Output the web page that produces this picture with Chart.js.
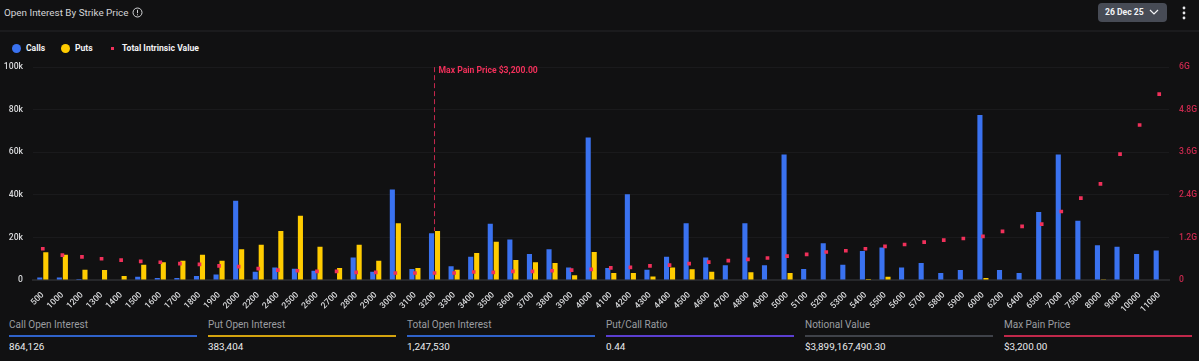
<!DOCTYPE html>
<html>
<head>
<meta charset="utf-8">
<script src="https://cdn.jsdelivr.net/npm/chart.js@4"></script>
<style>
    html, body { margin: 0; padding: 0; background: #111112; width: 1199px; height: 361px; overflow: hidden; font-family: Roboto, sans-serif; }
    .abs { position: absolute; white-space: nowrap; }
    .title { left: 4px; top: 5px; font-size: 9.9px; line-height: 16px; color: #d4d5d7; }
    .divider { left: 0; top: 30px; width: 1199px; height: 2px; background: #1b1b1d; }
    .date-btn { left: 1098px; top: 3px; width: 69px; height: 19px; background: #474b55; border-radius: 4px; color: #f2f3f5; font-size: 8.6px; font-weight: 700; line-height: 19px; padding-left: 7px; box-sizing: border-box; }
    .legend-text { top: 42px; font-size: 8.6px; font-weight: 700; line-height: 12px; color: #f2f3f5; }
    .dot { top: 44px; width: 9px; height: 9px; border-radius: 50%; }
    .stat-title { top: 318px; font-size: 10px; line-height: 14px; color: #9b9da1; }
    .stat-line { top: 335px; height: 2px; }
    .stat-value { top: 340px; font-size: 9.9px; font-weight: 400; line-height: 14px; color: #ebecee; }
    #chart_wrap { position: absolute; left: 0; top: 52px; width: 1199px; height: 264px; }
</style>
</head>
<body>
<div class="abs title">Open Interest By Strike Price</div>
<svg class="abs" style="left:132px;top:7px" width="11" height="11" viewBox="0 0 11 11" fill="none" stroke="#d4d5d7">
    <circle cx="5.5" cy="5.5" r="4.5"/><path d="M5.5 2.8v3.4M5.5 7.3v1"/>
</svg>
<div class="abs date-btn">26 Dec 25</div>
<svg class="abs" style="left:1149px;top:9px" width="10" height="7" viewBox="0 0 10 7" fill="none" stroke="#f2f3f5" stroke-width="1.2">
    <path d="M1 1l4 4 4-4"/>
</svg>
<svg class="abs" style="left:1182px;top:6px" width="4" height="14" viewBox="0 0 4 14" fill="#e8e9eb">
    <circle cx="2" cy="2" r="1.4"/><circle cx="2" cy="7" r="1.4"/><circle cx="2" cy="12" r="1.4"/>
</svg>
<div class="abs divider"></div>

<div class="abs dot" style="left:12px;background:#3a72f0"></div>
<div class="abs legend-text" style="left:26px">Calls</div>
<div class="abs dot" style="left:61px;background:#ffcc00"></div>
<div class="abs legend-text" style="left:75px">Puts</div>
<div class="abs" style="left:111px;top:47px;width:3px;height:3px;background:#f0305a"></div>
<div class="abs legend-text" style="left:122px">Total Intrinsic Value</div>

<div id="chart_wrap"><canvas id="strike_chart"></canvas></div>
<div id="stats"></div>

<script>
const strikes = ['500','1000','1200','1300','1400','1500','1600','1700','1800','1900','2000','2200','2400','2500','2600','2700','2800','2900','3000','3100','3200','3300','3400','3500','3600','3700','3800','3900','4000','4100','4200','4300','4400','4500','4600','4700','4800','4900','5000','5100','5200','5300','5400','5500','5600','5700','5800','5900','6000','6200','6400','6500','7000','7500','8000','9000','10000','11000']

// open interest, in thousands
const calls = [1.2,1.2,0.5,0,0,1.5,0.9,0.9,1.9,2.6,37.2,3.9,5.9,5.3,4.4,0,10.6,3.9,42.5,5.2,22,6.5,10.9,26.4,19,12.2,14.5,5.9,67,5.6,40.3,4.8,10.9,26.7,10.6,6.9,26.7,6.9,59,5.2,17.3,7.2,13.6,15.3,5.9,8,3.3,4.7,77.5,4.7,3.3,32,59,27.8,16.3,15.6,12.2,13.9]
const puts = [13,11.9,4.8,4.7,1.9,7.2,8.3,9,11.9,9,14.5,16.6,23,30.2,15.6,5.6,16.6,9,26.7,5.6,23,4.8,12.7,18,9.4,8.3,8,2.2,13.1,3.3,3.3,1.6,5.9,5,3.9,0,3.6,0,3.3,0,0,0,0.5,1.5,0,0,0,0,0.9,0,0,0,0,0,0.4,0,0,0]

// total intrinsic value, in billions
const intrinsic = [0.88,0.7,0.65,0.6,0.56,0.525,0.5,0.46,0.44,0.4,0.375,0.32,0.28,0.26,0.245,0.245,0.215,0.215,0.197,0.197,0.197,0.197,0.225,0.215,0.245,0.245,0.26,0.28,0.3,0.34,0.356,0.4,0.42,0.46,0.506,0.544,0.58,0.62,0.675,0.72,0.79,0.825,0.88,0.95,1,1.07,1.125,1.17,1.23,1.37,1.51,1.575,1.93,2.31,2.71,3.55,4.37,5.24]

const maxPainStrike = '3200'
const maxPainLabel = 'Max Pain Price $3,200.00'
const maxPainLineEnd = 23

const statTitles = ['Call Open Interest','Put Open Interest','Total Open Interest','Put/Call Ratio','Notional Value','Max Pain Price']
const statValues = ['864,126','383,404','1,247,530','0.44','$3,899,167,490.30','$3,200.00']
const statColors = ['#2f62c9','#d4a30f','#2f62c9','#5b3fd0','#3f4249','#c0284a']
const statLefts = [9,208,407,606,805,1004]

const stats = document.getElementById('stats')
statTitles.forEach((title, i) => {
    stats.insertAdjacentHTML('beforeend',
        `<div class="abs stat-title" style="left:${statLefts[i]}px">${title}</div>` +
        `<div class="abs stat-line" style="left:${statLefts[i]}px;width:188px;background:${statColors[i]}"></div>` +
        `<div class="abs stat-value" style="left:${statLefts[i]}px">${statValues[i]}</div>`)
})

// dashed marker at the max pain strike
const maxPainPlugin = {
    id: 'maxPain',
    afterDatasetsDraw(chart) {
        const { ctx, scales } = chart
        const x = scales.x.getPixelForValue(strikes.indexOf(maxPainStrike))
        ctx.save()
        ctx.strokeStyle = '#c8284e'
        ctx.lineWidth = 1
        ctx.setLineDash([5, 3])
        ctx.beginPath()
        ctx.moveTo(x, scales.y.getPixelForValue(100))
        ctx.lineTo(x, scales.y.getPixelForValue(maxPainLineEnd))
        ctx.stroke()
        ctx.setLineDash([])
        ctx.fillStyle = '#f0305a'
        ctx.font = '700 8.6px Roboto'
        ctx.textBaseline = 'middle'
        ctx.fillText(maxPainLabel, x + 4, scales.y.getPixelForValue(100) + 4)
        ctx.restore()
    }
}

new Chart(document.getElementById('strike_chart').getContext('2d'), {
    data: {
        labels: strikes,
        datasets: [
            { type: 'line', label: 'Total Intrinsic Value', data: intrinsic, yAxisID: 'y1', showLine: false, pointStyle: 'rect', pointRadius: 2.6, pointBackgroundColor: '#f0305a', pointBorderWidth: 0, order: 0 },
            { type: 'bar', label: 'Calls', data: calls, yAxisID: 'y', backgroundColor: '#3a72f0', categoryPercentage: 0.613, barPercentage: 0.85, order: 1 },
            { type: 'bar', label: 'Puts', data: puts, yAxisID: 'y', backgroundColor: '#ffcc00', categoryPercentage: 0.613, barPercentage: 0.85, order: 1 }
        ]
    },
    options: {
        responsive: true,
        maintainAspectRatio: false,
        animation: false,
        plugins: { legend: { display: false }, tooltip: { enabled: false } },
        scales: {
            x: {
                afterFit: (scale) => { scale.height = 36 },
                grid: { display: false },
                border: { color: '#26272a', width: 2 },
                ticks: { autoSkip: false, minRotation: 45, maxRotation: 45, padding: 2, color: '#d8d9db', font: { family: 'Roboto', size: 8.6, weight: '500' } }
            },
            y: {
                position: 'left',
                min: 0,
                max: 100,
                afterFit: (scale) => { scale.width = 33 },
                grid: { color: '#1a1a1c', drawTicks: false },
                border: { display: false },
                ticks: { stepSize: 20, padding: 10, color: '#d8d9db', font: { family: 'Roboto', size: 8.6, weight: '500' }, callback: (v) => v === 0 ? '0' : `${v}k` }
            },
            y1: {
                position: 'right',
                min: 0,
                max: 6,
                afterFit: (scale) => { scale.width = 30 },
                grid: { display: false, drawTicks: false },
                border: { display: false },
                ticks: { stepSize: 1.2, padding: 10, color: '#c9294e', font: { family: 'Roboto', size: 8.6, weight: '500' }, callback: (v) => v === 0 ? '0' : `${+v.toFixed(1)}G` }
            }
        }
    },
    plugins: [maxPainPlugin]
})
</script>
</body>
</html>
